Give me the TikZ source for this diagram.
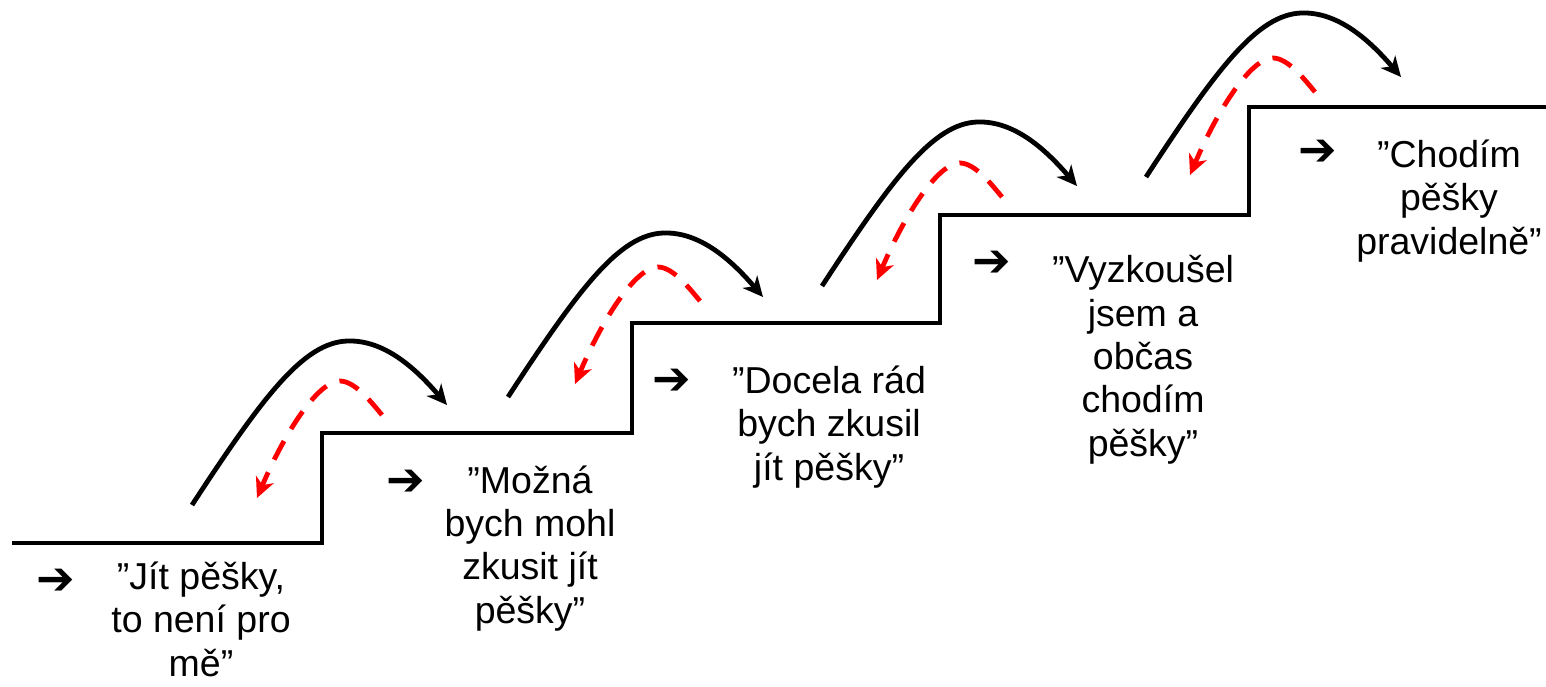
\documentclass[tikz,border=0pt]{standalone}
\usepackage{fontspec}
\setmainfont{Liberation Sans}
\newfontfamily\symfont{DejaVu Sans}
\usetikzlibrary{arrows.meta}
\tikzset{
  stair/.style={line width=4.8pt, line join=miter},
  jump/.style={line width=4.8pt, -{Stealth[length=20pt,width=19pt,inset=6pt]}},
  fall/.style={line width=4.8pt, red, dash pattern=on 21pt off 14pt, -{Stealth[length=20pt,width=19pt,inset=6pt]}},
  quote/.style={inner sep=0pt, anchor=base, align=center, font=\fontsize{37.5}{43.3}\selectfont},
  bullet/.style={inner sep=0pt, font=\symfont\bfseries\fontsize{46}{46}\selectfont}
}
\begin{document}
\begin{tikzpicture}[x=1pt,y=-1pt]
\useasboundingbox (0,0) rectangle (1546,686);
% staircase
\draw[stair] (12,543) -- (322,543) -- (322,433) -- (632,433) -- (632,323) -- (940,323) -- (940,215) -- (1249,215) -- (1249,107) -- (1546,107);
% jump curves (black) and fall-back curves (red)
\foreach \i/\bx/\by/\rx/\ry in {1/192/505/340/381, 2/508/397/658/267, 3/822/286/960/163, 4/1146/177/1273/58}{
  \coordinate (b\i s) at (\bx,\by);
  \coordinate (b\i p) at (\bx+160,\by-164);
  \coordinate (b\i t) at (\bx+255,\by-100);
  \coordinate (r\i s) at (\rx+42,\ry+34);
  \coordinate (r\i p) at (\rx,\ry);
  \coordinate (r\i t) at (\rx-83,\ry+117);
  \draw[jump] (b\i s) .. controls +(75,-115) and +(-45,-2) .. (b\i p) .. controls +(35,1) and +(-30,-35) .. (b\i t);
  \draw[fall] (r\i s) .. controls +(-10,-12) and +(15,0) .. (r\i p) .. controls +(-22,0) and +(28,-66) .. (r\i t);
}
% bullets
\node[bullet] (a1) at (56,582) {➔};
\node[bullet] (a2) at (406,483) {➔};
\node[bullet] (a3) at (672,382) {➔};
\node[bullet] (a4) at (992,264) {➔};
\node[bullet] (a5) at (1318,153) {➔};
% texts (anchor = baseline of last line)
\node[quote] (t1) at (201,676) {”Jít pěšky,\\to není pro\\mě”};
\node[quote] (t2) at (530,623) {”Možná\\bych mohl\\zkusit jít\\pěšky”};
\node[quote] (t3) at (829,480) {”Docela rád\\bych zkusil\\jít pěšky”};
\node[quote] (t4) at (1143,456) {”Vyzkoušel\\jsem a\\občas\\chodím\\pěšky”};
\node[quote] (t5) at (1449,254) {”Chodím\\pěšky\\pravidelně”};
\end{tikzpicture}
\end{document}
